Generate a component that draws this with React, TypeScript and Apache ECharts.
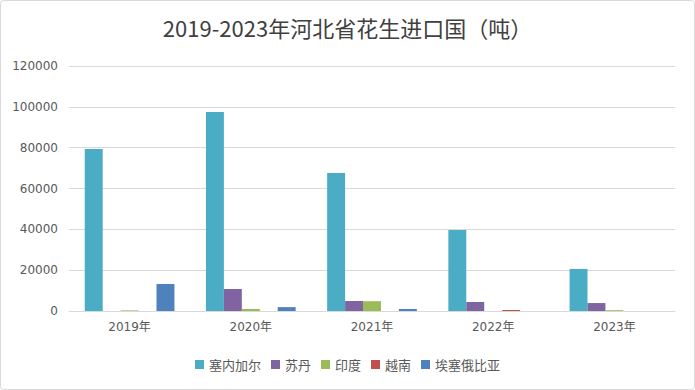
import React, { useEffect, useRef } from "react";
import * as echarts from "echarts";

const categories = ["2019年", "2020年", "2021年", "2022年", "2023年"];
const seriesNames = ["塞内加尔", "苏丹", "印度", "越南", "埃塞俄比亚"];
const senegal = [79300, 97500, 67600, 39700, 20600];
const sudan = [0, 10800, 4900, 4400, 3900];
const india = [300, 1000, 4800, 0, 400];
const vietnam = [0, 0, 0, 500, 0];
const ethiopia = [13200, 1900, 1000, 0, 0];
const colors = ["#4BACC6", "#8064A2", "#9BBB59", "#C0504D", "#4F81BD"];

export default function App() {
  const ref = useRef<HTMLDivElement>(null);
  useEffect(() => {
    const chart = echarts.init(ref.current!, null, { renderer: "svg" });
    const data = [senegal, sudan, india, vietnam, ethiopia];
    chart.setOption({
      animation: false,
      backgroundColor: "#fff",
      textStyle: { fontFamily: "Noto Sans CJK SC" },
      graphic: [
        {
          type: "rect",
          shape: { x: 0.5, y: 0.5, width: 694, height: 389, r: 3 },
          style: { fill: "none", stroke: "#D9D9D9", lineWidth: 1 },
          silent: true,
        },
      ],
      title: {
        text: "2019-2023年河北省花生进口国（吨）",
        left: "center",
        top: 11,
        textStyle: { fontSize: 22, fontWeight: "normal", color: "#404040", fontFamily: "Noto Sans CJK SC" },
      },
      legend: {
        bottom: 14,
        left: "center",
        itemWidth: 9,
        itemHeight: 9,
        itemGap: 10,
        icon: "rect",
        textStyle: { fontSize: 13, color: "#595959" },
        data: seriesNames,
      },
      grid: { left: 69, right: 20, top: 66, bottom: 79 },
      xAxis: {
        type: "category",
        data: categories,
        axisLine: { lineStyle: { color: "#D9D9D9" } },
        axisTick: { show: false },
        axisLabel: { color: "#595959", fontSize: 12, margin: 10, fontFamily: "DejaVu Sans, Noto Sans CJK SC" },
      },
      yAxis: {
        type: "value",
        min: 0,
        max: 120000,
        interval: 20000,
        axisLine: { show: false },
        axisTick: { show: false },
        splitLine: { lineStyle: { color: "#D9D9D9" } },
        axisLabel: {
          color: "#595959",
          fontSize: 12,
          margin: 11,
          fontFamily: "DejaVu Sans",
          formatter: (v: number) => String(v),
        },
      },
      series: seriesNames.map((n, i) => ({
        name: n,
        type: "bar",
        data: data[i],
        barGap: "0%",
        barCategoryGap: "26%",
        itemStyle: { color: colors[i] },
      })),
    });
    return () => chart.dispose();
  }, []);
  return <div ref={ref} style={{ position: "absolute", left: 0, top: 0, width: 695, height: 390 }} />;
}
